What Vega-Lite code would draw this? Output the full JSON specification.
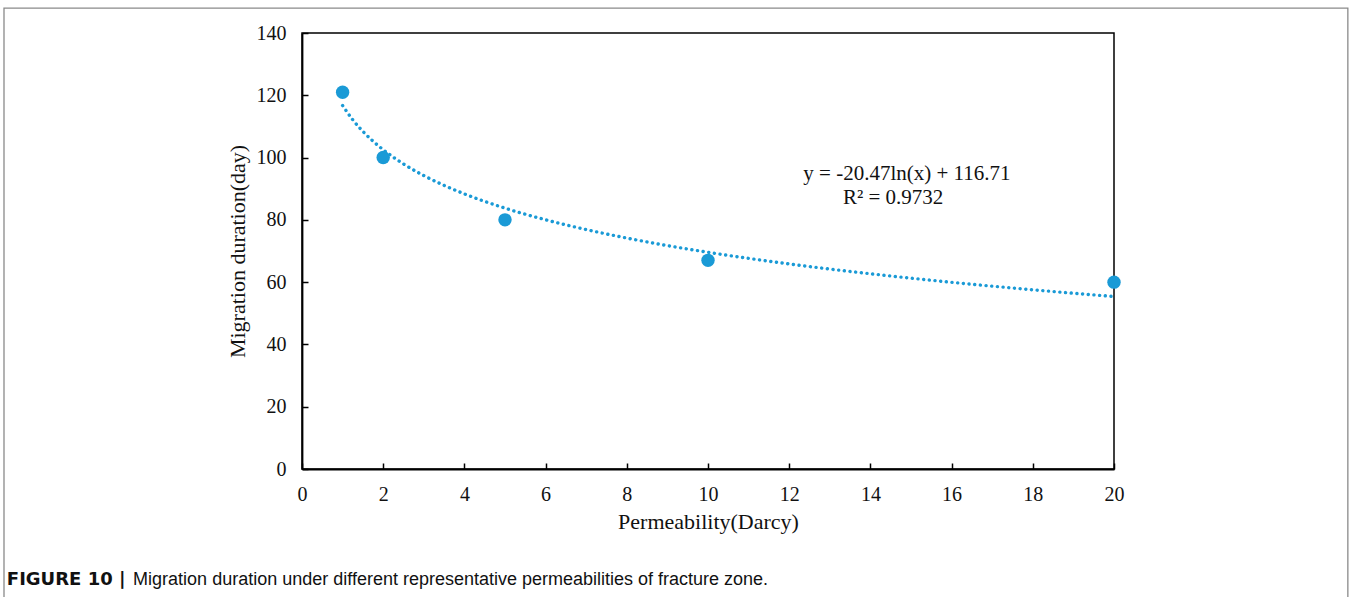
{
  "$schema": "https://vega.github.io/schema/vega-lite/v6.json",
  "width": 812,
  "height": 436,
  "autosize": {"type": "none"},
  "padding": {"left": 302, "top": 33, "right": 236, "bottom": 128},
  "background": "white",
  "config": {
    "view": {"stroke": "#000000", "strokeWidth": 1.5},
    "axis": {
      "labelFont": "Liberation Serif",
      "titleFont": "Liberation Serif",
      "labelFontSize": 20,
      "titleFontSize": 22,
      "titleFontWeight": "normal",
      "labelColor": "#111111",
      "titleColor": "#111111",
      "domainColor": "#000000",
      "domainWidth": 1.8,
      "tickColor": "#000000",
      "tickWidth": 1.5,
      "grid": false
    }
  },
  "datasets": {
    "points": [
      {"permeability": 1, "duration": 121},
      {"permeability": 2, "duration": 100},
      {"permeability": 5, "duration": 80},
      {"permeability": 10, "duration": 67},
      {"permeability": 20, "duration": 60}
    ],
    "trend": [
      {"permeability": 1, "duration": 116.71},
      {"permeability": 1.25, "duration": 112.14},
      {"permeability": 1.5, "duration": 108.41},
      {"permeability": 1.75, "duration": 105.26},
      {"permeability": 2, "duration": 102.52},
      {"permeability": 2.5, "duration": 97.95},
      {"permeability": 3, "duration": 94.22},
      {"permeability": 3.5, "duration": 91.07},
      {"permeability": 4, "duration": 88.33},
      {"permeability": 5, "duration": 83.76},
      {"permeability": 6, "duration": 80.03},
      {"permeability": 7, "duration": 76.88},
      {"permeability": 8, "duration": 74.15},
      {"permeability": 9, "duration": 71.73},
      {"permeability": 10, "duration": 69.58},
      {"permeability": 12, "duration": 65.84},
      {"permeability": 14, "duration": 62.69},
      {"permeability": 16, "duration": 59.95},
      {"permeability": 18, "duration": 57.54},
      {"permeability": 20, "duration": 55.39}
    ],
    "notes": [
      {"permeability": 14.9, "duration": 94.7, "label": "y = -20.47ln(x) + 116.71"},
      {"permeability": 14.56, "duration": 87.0, "label": "R² = 0.9732"}
    ]
  },
  "layer": [
    {
      "data": {"name": "trend"},
      "mark": {"type": "line", "color": "#1a9ad6", "strokeWidth": 3.4, "strokeDash": [0.1, 5.6], "strokeCap": "round", "interpolate": "monotone"},
      "encoding": {
        "x": {"field": "permeability", "type": "quantitative", "scale": {"domain": [0, 20], "nice": false, "zero": false},
          "axis": {"title": "Permeability(Darcy)", "values": [0,2,4,6,8,10,12,14,16,18,20], "tickSize": -6, "labelPadding": 21, "titlePadding": 7, "labelFlush": false}},
        "y": {"field": "duration", "type": "quantitative", "scale": {"domain": [0, 140], "nice": false},
          "axis": {"title": "Migration duration(day)", "values": [0,20,40,60,80,100,120,140], "tickSize": -6, "labelPadding": 22, "titlePadding": 7, "labelFlush": false}}
      }
    },
    {
      "data": {"name": "points"},
      "mark": {"type": "circle", "color": "#1a9ad6", "opacity": 1, "size": 180},
      "encoding": {
        "x": {"field": "permeability", "type": "quantitative"},
        "y": {"field": "duration", "type": "quantitative"}
      }
    },
    {
      "data": {"name": "notes"},
      "mark": {"type": "text", "font": "Liberation Serif", "fontSize": 21, "color": "#111111", "align": "center", "baseline": "middle"},
      "encoding": {
        "x": {"field": "permeability", "type": "quantitative"},
        "y": {"field": "duration", "type": "quantitative"},
        "text": {"field": "label"}
      }
    },
    {
      "data": {"values": [{}]},
      "mark": {"type": "rect", "fill": null, "fillOpacity": 0, "stroke": "#8a8a8a", "strokeWidth": 1.3},
      "encoding": {
        "x": {"datum": -7.34},
        "x2": {"datum": 25.76},
        "y": {"datum": 148.0},
        "y2": {"datum": -45}
      }
    },
    {
      "data": {"values": [{"t": "FIGURE 10 |"}]},
      "mark": {"type": "text", "font": "DejaVu Sans", "fontSize": 18, "fontWeight": "bold", "color": "#111111", "align": "left", "baseline": "middle"},
      "encoding": {
        "x": {"datum": -7.27},
        "y": {"datum": -35.65},
        "text": {"field": "t"}
      }
    },
    {
      "data": {"values": [{"t": "Migration duration under different representative permeabilities of fracture zone."}]},
      "mark": {"type": "text", "font": "Liberation Sans", "fontSize": 18, "color": "#111111", "align": "left", "baseline": "middle"},
      "encoding": {
        "x": {"datum": -4.16},
        "y": {"datum": -35.65},
        "text": {"field": "t"}
      }
    }
  ]
}
